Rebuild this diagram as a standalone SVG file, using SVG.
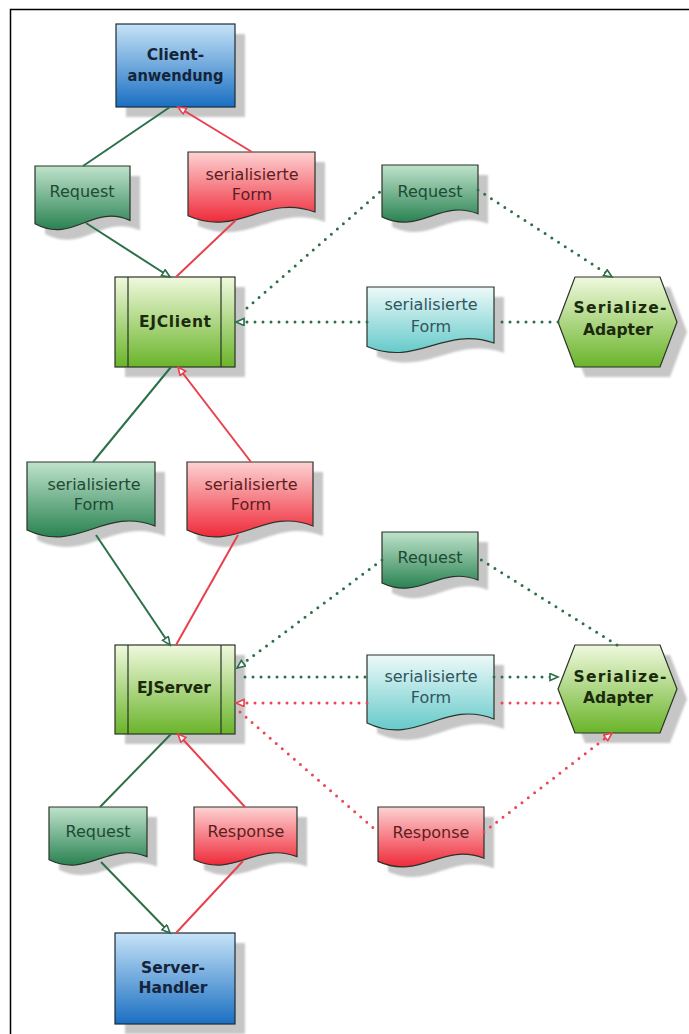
<svg xmlns="http://www.w3.org/2000/svg" width="689" height="1034" viewBox="0 0 689 1034">
<defs>
<linearGradient id="gBlue" x1="0" y1="0" x2="0" y2="1"><stop offset="0" stop-color="#c6e3f7"/><stop offset="1" stop-color="#1a6fc2"/></linearGradient>
<linearGradient id="gGreen" x1="0" y1="0" x2="0" y2="1"><stop offset="0" stop-color="#bfe3cc"/><stop offset="1" stop-color="#2a8252"/></linearGradient>
<linearGradient id="gRed" x1="0" y1="0" x2="0" y2="1"><stop offset="0" stop-color="#fdd2d2"/><stop offset="1" stop-color="#ef2a3a"/></linearGradient>
<linearGradient id="gCyan" x1="0" y1="0" x2="0" y2="1"><stop offset="0" stop-color="#eef9f9"/><stop offset="1" stop-color="#66caca"/></linearGradient>
<linearGradient id="gLime" x1="0" y1="0" x2="0" y2="1"><stop offset="0" stop-color="#f0f9de"/><stop offset="1" stop-color="#6ab42a"/></linearGradient>
<filter id="blur" x="-10%" y="-10%" width="120%" height="120%"><feGaussianBlur stdDeviation="1.2"/></filter>
<marker id="aG" markerUnits="userSpaceOnUse" markerWidth="12" markerHeight="10" refX="9" refY="4" orient="auto"><path d="M1,0.5 L9,4 L1,7.5 Z" fill="#ffffff" stroke="#2a7048" stroke-width="1.6"/></marker>
<marker id="aR" markerUnits="userSpaceOnUse" markerWidth="12" markerHeight="10" refX="9" refY="4" orient="auto"><path d="M1,0.5 L9,4 L1,7.5 Z" fill="#ffffff" stroke="#e8404c" stroke-width="1.6"/></marker>
</defs>
<style>
.shadow{fill:#c6c6c6;stroke:none;filter:url(#blur)}
.shape{stroke:#2b3328;stroke-width:1.2}
.blue{fill:url(#gBlue);stroke:#1d2a38}
.green{fill:url(#gGreen)}
.red{fill:url(#gRed)}
.cyan{fill:url(#gCyan)}
.lime{fill:url(#gLime)}
.inner{stroke:#2b3328;stroke-width:1.2;fill:none}
text{text-anchor:middle}
.lbl{font-family:"DejaVu Sans","Liberation Sans",sans-serif;font-size:16px}
.bold{font-family:"DejaVu Sans","Liberation Sans",sans-serif;font-size:15.5px;font-weight:bold}
.tBlue{fill:#15243a}
.tLime{fill:#1b2a0c}
.tGreen{fill:#1f4a33}
.tRed{fill:#5c1e22}
.tCyan{fill:#2f5560}
.sG{stroke:#2c7049;stroke-width:2;fill:none}
.sR{stroke:#e8404c;stroke-width:2;fill:none}
.dG{stroke:#2c7049;stroke-width:3;fill:none;stroke-dasharray:0 8;stroke-linecap:round}
.dR{stroke:#ec4656;stroke-width:3;fill:none;stroke-dasharray:0 8;stroke-linecap:round}
.frame{stroke:#000;stroke-width:1.5;fill:none}
</style>
<rect width="689" height="1034" fill="#ffffff"/>
<path class="frame" d="M10.5,1034 V9.5 H689"/>

<g id="client">
<rect class="shadow" x="126" y="34" width="119" height="83"/>
<rect class="shape blue" x="116" y="24" width="119" height="83"/>
<text class="bold tBlue" x="175.5" y="60">Client-</text>
<text class="bold tBlue" x="175.5" y="81" textLength="96" lengthAdjust="spacingAndGlyphs">anwendung</text>
</g>

<g id="reqTL">
<path class="shadow" transform="translate(10,10)" d="M35,166 H130 V220.4 C92,203.4 73,244.2 35,223.8 Z"/>
<path class="shape green" d="M35,166 H130 V220.4 C92,203.4 73,244.2 35,223.8 Z"/>
<text class="lbl tGreen" x="82" y="197">Request</text>
</g>

<g id="redTop">
<path class="shadow" transform="translate(10,10)" d="M188,152 H315 V212 C264.2,193.25 238.8,238.25 188,215.75 Z"/>
<path class="shape red" d="M188,152 H315 V212 C264.2,193.25 238.8,238.25 188,215.75 Z"/>
<text class="lbl tRed" x="252" y="180">serialisierte</text>
<text class="lbl tRed" x="252" y="200">Form</text>
</g>

<g id="ejclient">
<rect class="shadow" x="125" y="287" width="120" height="90"/>
<rect class="shape lime" x="115" y="277" width="120" height="90"/>
<line class="inner" x1="128" y1="277" x2="128" y2="367"/>
<line class="inner" x1="221" y1="277" x2="221" y2="367"/>
<text class="bold tLime" x="175" y="327" textLength="72">EJClient</text>
</g>

<g id="reqTR">
<path class="shadow" transform="translate(10,10)" d="M382,165 H478 V213.8 C439.6,198.55 420.4,235.15 382,216.85 Z"/>
<path class="shape green" d="M382,165 H478 V213.8 C439.6,198.55 420.4,235.15 382,216.85 Z"/>
<text class="lbl tGreen" x="430" y="197">Request</text>
</g>

<g id="cyan1">
<path class="shadow" transform="translate(10,10)" d="M367,287 H494 V343 C443.2,325.5 417.8,367.5 367,346.5 Z"/>
<path class="shape cyan" d="M367,287 H494 V343 C443.2,325.5 417.8,367.5 367,346.5 Z"/>
<text class="lbl tCyan" x="431" y="310">serialisierte</text>
<text class="lbl tCyan" x="431" y="332">Form</text>
</g>

<g id="adapter1">
<polygon class="shadow" transform="translate(10,10)" points="575,277 660,277 677,322 660,367 575,367 558,322"/>
<polygon class="shape lime" points="575,277 660,277 677,322 660,367 575,367 558,322"/>
<text class="bold tLime" x="620" y="313" textLength="93">Serialize-</text>
<text class="bold tLime" x="618" y="335" textLength="70">Adapter</text>
</g>

<g id="greenMid">
<path class="shadow" transform="translate(10,10)" d="M27,462 H155 V526 C103.8,506 78.2,554 27,530 Z"/>
<path class="shape green" d="M27,462 H155 V526 C103.8,506 78.2,554 27,530 Z"/>
<text class="lbl tGreen" x="94" y="490">serialisierte</text>
<text class="lbl tGreen" x="94" y="510">Form</text>
</g>

<g id="redMid">
<path class="shadow" transform="translate(10,10)" d="M187,462 H313 V526 C262.6,506 237.4,554 187,530 Z"/>
<path class="shape red" d="M187,462 H313 V526 C262.6,506 237.4,554 187,530 Z"/>
<text class="lbl tRed" x="251" y="490">serialisierte</text>
<text class="lbl tRed" x="251" y="510">Form</text>
</g>

<g id="ejserver">
<rect class="shadow" x="125" y="655" width="120" height="89"/>
<rect class="shape lime" x="115" y="645" width="120" height="89"/>
<line class="inner" x1="128" y1="645" x2="128" y2="734"/>
<line class="inner" x1="221" y1="645" x2="221" y2="734"/>
<text class="bold tLime" x="174" y="693" textLength="74">EJServer</text>
</g>

<g id="reqMR">
<path class="shadow" transform="translate(10,10)" d="M382,532 H478 V580 C439.6,565 420.4,601 382,583 Z"/>
<path class="shape green" d="M382,532 H478 V580 C439.6,565 420.4,601 382,583 Z"/>
<text class="lbl tGreen" x="430" y="563">Request</text>
</g>

<g id="cyan2">
<path class="shadow" transform="translate(10,10)" d="M367,655 H494 V719 C443.2,699 417.8,747 367,723 Z"/>
<path class="shape cyan" d="M367,655 H494 V719 C443.2,699 417.8,747 367,723 Z"/>
<text class="lbl tCyan" x="431" y="682">serialisierte</text>
<text class="lbl tCyan" x="431" y="703">Form</text>
</g>

<g id="adapter2">
<polygon class="shadow" transform="translate(10,10)" points="575,645 660,645 677,689 660,733 575,733 558,689"/>
<polygon class="shape lime" points="575,645 660,645 677,689 660,733 575,733 558,689"/>
<text class="bold tLime" x="620" y="682" textLength="93">Serialize-</text>
<text class="bold tLime" x="618" y="703" textLength="70">Adapter</text>
</g>

<g id="reqBL">
<path class="shadow" transform="translate(10,10)" d="M49,807 H147 V856.6 C107.8,841.1 88.2,878.3 49,859.7 Z"/>
<path class="shape green" d="M49,807 H147 V856.6 C107.8,841.1 88.2,878.3 49,859.7 Z"/>
<text class="lbl tGreen" x="98" y="837">Request</text>
</g>

<g id="respB">
<path class="shadow" transform="translate(10,10)" d="M194,807 H297 V856.6 C255.8,841.1 235.2,878.3 194,859.7 Z"/>
<path class="shape red" d="M194,807 H297 V856.6 C255.8,841.1 235.2,878.3 194,859.7 Z"/>
<text class="lbl tRed" x="246" y="837">Response</text>
</g>

<g id="respR">
<path class="shadow" transform="translate(10,10)" d="M378,807 H484 V858.2 C441.6,842.2 420.4,880.6 378,861.4 Z"/>
<path class="shape red" d="M378,807 H484 V858.2 C441.6,842.2 420.4,880.6 378,861.4 Z"/>
<text class="lbl tRed" x="431" y="838">Response</text>
</g>

<g id="serverHandler">
<rect class="shadow" x="125" y="943" width="120" height="91"/>
<rect class="shape blue" x="115" y="933" width="120" height="91"/>
<text class="bold tBlue" x="173" y="973">Server-</text>
<text class="bold tBlue" x="173" y="993">Handler</text>
</g>

<g id="connectors">
<line class="sG" x1="170" y1="107" x2="83" y2="166"/>
<line class="sG" x1="86" y1="223" x2="170" y2="277" marker-end="url(#aG)"/>
<line class="sR" x1="176" y1="277" x2="236" y2="220"/>
<line class="sR" x1="252" y1="152" x2="178" y2="107" marker-end="url(#aR)"/>
<line class="sG" x1="171" y1="367" x2="93" y2="462"/>
<line class="sG" x1="96" y1="535" x2="170" y2="645" marker-end="url(#aG)"/>
<line class="sR" x1="176" y1="645" x2="238" y2="535"/>
<line class="sR" x1="251" y1="462" x2="178" y2="367" marker-end="url(#aR)"/>
<line class="sG" x1="171" y1="734" x2="100" y2="807"/>
<line class="sG" x1="101" y1="862" x2="170" y2="933" marker-end="url(#aG)"/>
<line class="sR" x1="176" y1="933" x2="243" y2="861"/>
<line class="sR" x1="245" y1="807" x2="178" y2="734" marker-end="url(#aR)"/>

<line class="dG" x1="247" y1="308" x2="382" y2="190"/>
<line class="dG" x1="478" y1="190" x2="612" y2="277" marker-end="url(#aG)"/>
<line class="dG" x1="558" y1="322" x2="494" y2="322"/>
<line class="dG" x1="367" y1="322" x2="236" y2="322" marker-end="url(#aG)"/>

<line class="dG" x1="617" y1="645" x2="478" y2="558"/>
<line class="dG" x1="382" y1="560" x2="237" y2="668" marker-end="url(#aG)"/>
<line class="dG" x1="245" y1="677" x2="367" y2="677"/>
<line class="dG" x1="494" y1="677" x2="558" y2="677" marker-end="url(#aG)"/>
<line class="dR" x1="558" y1="703" x2="494" y2="703"/>
<line class="dR" x1="367" y1="703" x2="236" y2="703" marker-end="url(#aR)"/>
<line class="dR" x1="240" y1="712" x2="378" y2="832"/>
<line class="dR" x1="484" y1="832" x2="612" y2="733" marker-end="url(#aR)"/>
</g>
</svg>
